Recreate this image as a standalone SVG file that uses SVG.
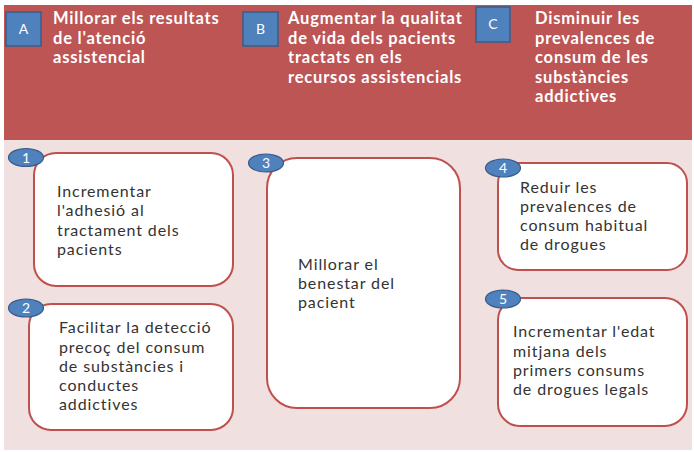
<svg xmlns="http://www.w3.org/2000/svg" width="694" height="452" viewBox="0 0 694 452">
<style>
.hdr{font-family:Lato,"Open Sans","Liberation Sans",sans-serif;font-weight:bold;font-size:16.5px;letter-spacing:0.8px;fill:#ffffff}
.sq{fill:#4f81bd;stroke:#385d8a;stroke-width:1.5}
.sqt{font-family:Lato,"Liberation Sans",sans-serif;font-size:14px;fill:#ffffff;text-anchor:middle}
.box{fill:#ffffff;stroke:#c0504d;stroke-width:2}
.num{fill:#4f81bd;stroke:#385d8a;stroke-width:1.2}
.numt{font-family:Lato,"Liberation Sans",sans-serif;font-size:14px;fill:#ffffff;text-anchor:middle}
.bt{font-family:Lato,"Open Sans","Liberation Sans",sans-serif;font-size:16px;letter-spacing:0.9px;fill:#333333}
</style>
<rect x="4" y="140" width="688" height="310" fill="#f0e0e0"/>
<rect x="4" y="5" width="688" height="135" fill="#bd5555"/>
<g id="connectors"></g>
<g id="goalA">
<rect class="sq" x="6" y="12" width="35" height="34"/>
<text class="sqt" x="23.5" y="34">A</text>
<text class="hdr"><tspan x="53" y="24">Millorar els resultats</tspan><tspan x="53" y="43.5">de l'atenció</tspan><tspan x="53" y="63">assistencial</tspan></text>
</g>
<g id="goalB">
<rect class="sq" x="243" y="12" width="35" height="34"/>
<text class="sqt" x="260.5" y="34">B</text>
<text class="hdr"><tspan x="288" y="24">Augmentar la qualitat</tspan><tspan x="288" y="43.5">de vida dels pacients</tspan><tspan x="288" y="63">tractats en els</tspan><tspan x="288" y="82.5">recursos assistencials</tspan></text>
</g>
<g id="goalC">
<rect class="sq" x="476" y="7" width="34" height="35"/>
<text class="sqt" x="493" y="29">C</text>
<text class="hdr"><tspan x="535" y="24">Disminuir les</tspan><tspan x="535" y="43.5">prevalences de</tspan><tspan x="535" y="63">consum de les</tspan><tspan x="535" y="82.5">substàncies</tspan><tspan x="535" y="102">addictives</tspan></text>
</g>
<g id="obj1">
<rect class="box" x="34" y="153" width="199" height="133" rx="22"/>
<ellipse class="num" cx="26" cy="157.5" rx="17.5" ry="9"/>
<text class="numt" x="26" y="162.5">1</text>
<text class="bt"><tspan x="57" y="197">Incrementar</tspan><tspan x="57" y="216">l'adhesió al</tspan><tspan x="57" y="236">tractament dels</tspan><tspan x="57" y="255">pacients</tspan></text>
</g>
<g id="obj2">
<rect class="box" x="29" y="304" width="204" height="126" rx="22"/>
<ellipse class="num" cx="26" cy="308" rx="17.5" ry="9"/>
<text class="numt" x="26" y="313">2</text>
<text class="bt"><tspan x="59" y="333">Facilitar la detecció</tspan><tspan x="59" y="353">precoç del consum</tspan><tspan x="59" y="372">de substàncies i</tspan><tspan x="59" y="391">conductes</tspan><tspan x="59" y="410">addictives</tspan></text>
</g>
<g id="obj3">
<rect class="box" x="267" y="158" width="193" height="250" rx="30"/>
<ellipse class="num" cx="266" cy="163" rx="17.5" ry="9"/>
<text class="numt" x="266" y="168">3</text>
<text class="bt"><tspan x="298" y="270">Millorar el</tspan><tspan x="298" y="289">benestar del</tspan><tspan x="298" y="308">pacient</tspan></text>
</g>
<g id="obj4">
<rect class="box" x="498" y="163" width="189" height="107" rx="20"/>
<ellipse class="num" cx="503" cy="168" rx="17.5" ry="9"/>
<text class="numt" x="503" y="173">4</text>
<text class="bt"><tspan x="520" y="193">Reduir les</tspan><tspan x="520" y="212">prevalences de</tspan><tspan x="520" y="231">consum habitual</tspan><tspan x="520" y="250">de drogues</tspan></text>
</g>
<g id="obj5">
<rect class="box" x="498" y="298" width="189" height="128" rx="22"/>
<ellipse class="num" cx="503" cy="299" rx="17.5" ry="9"/>
<text class="numt" x="503" y="304">5</text>
<text class="bt"><tspan x="513" y="337">Incrementar l'edat</tspan><tspan x="513" y="357">mitjana dels</tspan><tspan x="513" y="376">primers consums</tspan><tspan x="513" y="395">de drogues legals</tspan></text>
</g>
</svg>
